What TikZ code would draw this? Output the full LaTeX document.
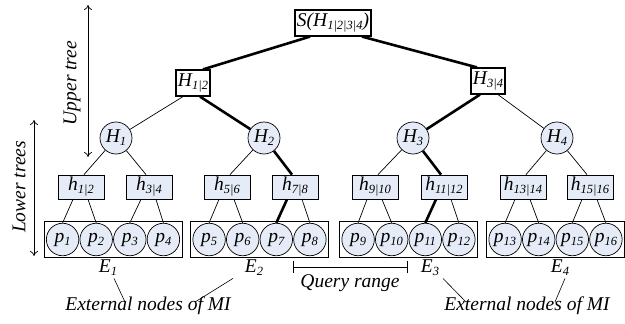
\documentclass[tikz,border=0pt]{standalone}
\usepackage{fontspec}
\setmainfont{Liberation Serif}
\usetikzlibrary{arrows.meta,fit}
\definecolor{nodefill}{RGB}{230,236,247}
% small lowered index used in node names
\newcommand\sbs[1]{\raisebox{-3pt}{\fontsize{12.5}{13}\selectfont #1}}
\begin{document}
\begin{tikzpicture}[x=1pt,y=-1pt,
  every node/.style={font=\fontsize{19.5}{22}\selectfont\itshape},
  hub/.style={draw,fill=nodefill,circle,minimum size=32pt,inner sep=0pt,line width=0.7pt},
  leaf/.style={draw,fill=nodefill,circle,minimum size=32.5pt,inner sep=0pt,line width=0.7pt},
  topbox/.style={draw,fill=white,rectangle,line width=1.2pt,inner xsep=2pt,inner ysep=1pt,minimum height=26pt},
  lowbox/.style={draw,fill=nodefill,rectangle,line width=0.8pt,minimum width=46pt,minimum height=24pt,inner sep=1pt},
  groupbox/.style={draw,rectangle,line width=1pt,inner xsep=2pt,inner ysep=1.5pt},
  thin edge/.style={line width=0.7pt},
  thick edge/.style={line width=2.6pt},
  pointer/.style={line width=0.6pt},
  span/.style={line width=0.7pt,{To[length=5pt,width=8pt]}-{To[length=5pt,width=8pt]}}]
\useasboundingbox (0,0) rectangle (625,324);

% upper tree
\node[topbox] (S) at (333,23) {S(H\sbs{1|2|3|4})};
\node[topbox] (H12) at (193,83) {H\sbs{1|2}};
\node[topbox] (H34) at (488,81) {H\sbs{3|4}};

% roots of the lower trees
\node[hub] (H1) at (116,138) {H\sbs{1}};
\node[hub] (H2) at (264,138) {H\sbs{2}};
\node[hub] (H3) at (413,138) {H\sbs{3}};
\node[hub] (H4) at (557,138) {H\sbs{4}};

% inner nodes of the lower trees
\node[lowbox] (h12) at (81,187) {h\sbs{1|2}};
\node[lowbox] (h34) at (149,187) {h\sbs{3|4}};
\node[lowbox] (h56) at (227,187) {h\sbs{5|6}};
\node[lowbox] (h78) at (295,187) {h\sbs{7|8}};
\node[lowbox] (h910) at (375,187) {h\sbs{9|10}};
\node[lowbox] (h1112) at (444,187) {h\sbs{11|12}};
\node[lowbox] (h1314) at (523,187) {h\sbs{13|14}};
\node[lowbox] (h1516) at (590,187) {h\sbs{15|16}};

% leaves
\foreach \c/\a in {113/1,259.5/5,408.5/9,555.5/13}{
  \pgfmathtruncatemacro\b{\a+1}
  \pgfmathtruncatemacro\cc{\a+2}
  \pgfmathtruncatemacro\d{\a+3}
  \node[leaf] (p\a) at (\c-50.4,239.5) {p\sbs{\a}};
  \node[leaf] (p\b) at (\c-16.8,239.5) {p\sbs{\b}};
  \node[leaf] (p\cc) at (\c+16.8,239.5) {p\sbs{\cc}};
  \node[leaf] (p\d) at (\c+50.4,239.5) {p\sbs{\d}};
}
\node[groupbox,fit=(p1)(p4)] (E1box) {};
\node[groupbox,fit=(p5)(p8)] (E2box) {};
\node[groupbox,fit=(p9)(p12)] (E3box) {};
\node[groupbox,fit=(p13)(p16)] (E4box) {};

% edges of the upper tree
\draw[thick edge] ([xshift=-23pt]S.south) -- ([xshift=10pt]H12.north);
\draw[thick edge] ([xshift=29pt]S.south) -- ([xshift=-11pt]H34.north);
\draw[thin edge] ([xshift=-10pt]H12.south) -- (H1);
\draw[thick edge] ([xshift=7pt]H12.south) -- (H2);
\draw[thick edge] ([xshift=-8pt]H34.south) -- (H3);
\draw[thin edge] ([xshift=10pt]H34.south) -- (H4);

% edges of the lower trees
\foreach \r/\l/\m in {H1/h12/h34,H2/h56/h78,H3/h910/h1112,H4/h1314/h1516}{
  \draw[thin edge] (\r) -- ([xshift=3pt]\l.north);
  \draw[thin edge] (\r) -- ([xshift=-3pt]\m.north);
}
\foreach \h/\u/\v in {h12/p1/p2,h34/p3/p4,h56/p5/p6,h78/p7/p8,h910/p9/p10,h1112/p11/p12,h1314/p13/p14,h1516/p15/p16}{
  \draw[thin edge] ([xshift=-8pt]\h.south) -- (\u.north);
  \draw[thin edge] ([xshift=7pt]\h.south) -- (\v.north);
}
% query path
\draw[thick edge] (H2) -- ([xshift=-3pt]h78.north);
\draw[thick edge] ([xshift=-8pt]h78.south) -- (p7.north);
\draw[thick edge] (H3) -- ([xshift=-3pt]h1112.north);
\draw[thick edge] ([xshift=-8pt]h1112.south) -- (p11.north);

% group labels
\node (E1) at (108,268) {E\sbs{1}};
\node (E2) at (254,268) {E\sbs{2}};
\node (E3) at (430,268) {E\sbs{3}};
\node (E4) at (560,268) {E\sbs{4}};

% query range
\coordinate (qa) at (293,267);
\coordinate (qb) at (408,267);
\draw[line width=0.9pt,{Bar[width=12pt]}-{Bar[width=12pt]}] (qa) -- (qb);
\node (qr) at (350,283) {Query range};

% external node callouts
\node (ext1) at (148,306) {External nodes of MI};
\node (ext2) at (527,306) {External nodes of MI};
\coordinate (c1) at (125,302);
\coordinate (c2) at (195,302);
\coordinate (c3) at (466,302);
\coordinate (c4) at (555,302);
\draw[pointer] ([xshift=6pt,yshift=1pt]E1.south) -- (c1);
\draw[pointer] ([xshift=-21pt,yshift=1pt]E2.south) -- (c2);
\draw[pointer] ([xshift=13pt,yshift=1pt]E3.south) -- (c3);
\draw[pointer] ([xshift=5pt,yshift=1pt]E4.south) -- (c4);

% level markers
\coordinate (ut1) at (88,5);
\coordinate (ut2) at (88,157);
\draw[span] (ut1) -- (ut2);
\node[rotate=90] (ut) at (72,83) {Upper tree};
\coordinate (lt1) at (34,120);
\coordinate (lt2) at (34,256);
\draw[span] (lt1) -- (lt2);
\node[rotate=90] (lt) at (19,187) {Lower trees};
\end{tikzpicture}
\end{document}
